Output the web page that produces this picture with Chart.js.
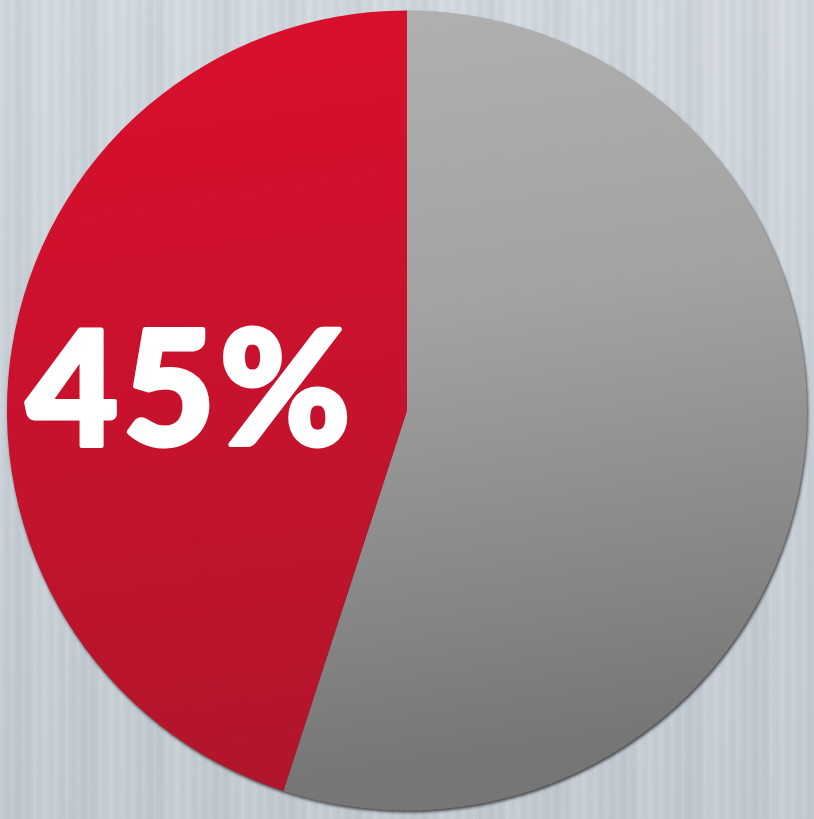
<!DOCTYPE html>
<html>
<head>
<meta charset="utf-8">
<script src="https://cdn.jsdelivr.net/npm/chart.js@4"></script>
<style>
  html, body { margin: 0; padding: 0; }
  body {
    width: 814px; height: 819px; overflow: hidden;
    background-color: #c8cfd6;
    background-image:
      repeating-linear-gradient(90deg, rgba(255,255,255,0.10) 0px, rgba(255,255,255,0) 3px, rgba(120,130,140,0.06) 7px, rgba(255,255,255,0) 11px),
      repeating-linear-gradient(90deg, rgba(255,255,255,0) 0px, rgba(150,160,170,0.10) 23px, rgba(255,255,255,0.08) 41px, rgba(255,255,255,0) 67px),
      linear-gradient(180deg, #d1d8de, #c2cad2);
  }
  #wrap { position: relative; width: 814px; height: 819px; }
  canvas { filter: drop-shadow(1px 2px 1.5px rgba(30,30,30,0.75)); }
</style>
</head>
<body>
<div id="wrap"><canvas id="myChart"></canvas></div>
<script>
// donnees du camembert
const categories = ["Reste", "Part"];
const valeurs = [55, 45];
const etiquette = "45%";

const ctx = document.getElementById("myChart");

// degradé pour chaque part
function couleur(c) {
  const area = c.chart.chartArea;
  if (!area) return c.dataIndex == 1 ? "#c8102e" : "#999999";
  const g = c.chart.ctx.createLinearGradient(area.left, area.top, area.left + 120, area.bottom);
  if (c.dataIndex == 1) {
    g.addColorStop(0, "#da0f2c");
    g.addColorStop(0.5, "#c8122d");
    g.addColorStop(1, "#b0162c");
  } else {
    g.addColorStop(0, "#b2b2b2");
    g.addColorStop(0.45, "#a2a2a2");
    g.addColorStop(1, "#767676");
  }
  return g;
}

// texte blanc sur la part rouge (contour blanc pour l'epaissir)
const texte = {
  id: "texte",
  afterDatasetsDraw(chart) {
    const arc = chart.getDatasetMeta(0).data[1];
    const c = chart.ctx;
    c.save();
    c.fillStyle = "#ffffff";
    c.strokeStyle = "#ffffff";
    c.lineWidth = 5;
    c.lineJoin = "round";
    c.font = "900 158px Lato, 'Open Sans', sans-serif";
    c.letterSpacing = "5px";
    c.textAlign = "center";
    c.textBaseline = "alphabetic";
    const x = arc.x - 0.54 * arc.outerRadius;
    const y = arc.y + 34;
    c.strokeText(etiquette, x, y);
    c.fillText(etiquette, x, y);
    c.restore();
  }
};

new Chart(ctx, {
  type: "pie",
  data: {
    labels: categories,
    datasets: [{
      data: valeurs,
      backgroundColor: couleur,
      borderWidth: 0
    }]
  },
  options: {
    responsive: true,
    maintainAspectRatio: false,
    animation: false,
    layout: { padding: { left: 7, right: 7, top: 9, bottom: 7 } },
    plugins: {
      legend: { display: false },
      tooltip: { enabled: false }
    }
  },
  plugins: [texte]
});
</script>
</body>
</html>
